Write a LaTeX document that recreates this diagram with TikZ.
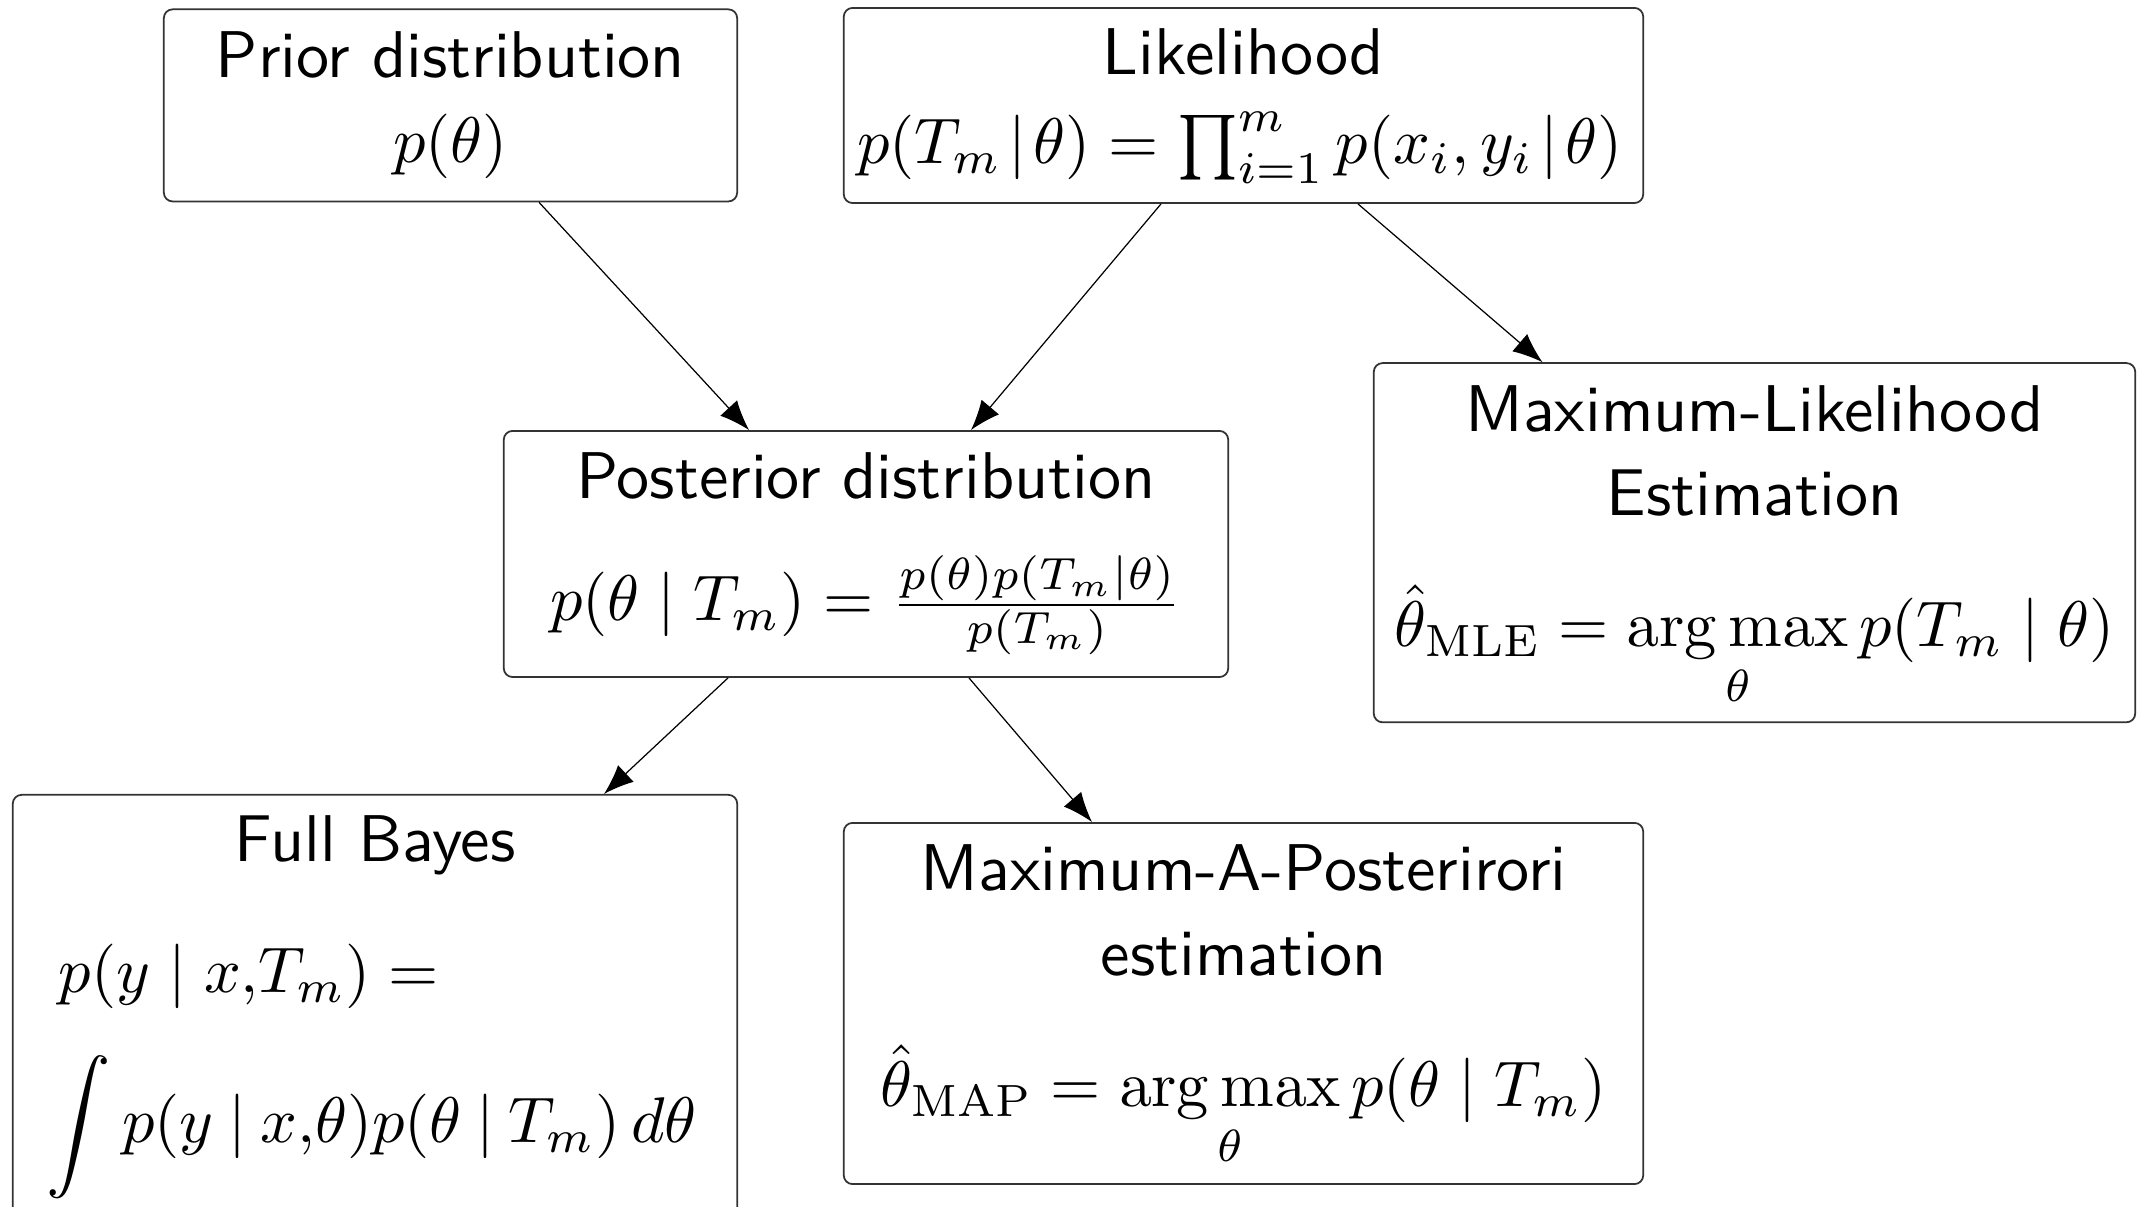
\documentclass[tikz,border=0pt]{standalone}
\usepackage{amsmath}
\usetikzlibrary{arrows.meta,calc}
\newcommand{\argmaxop}{\mathop{\mathrm{arg\,max}}\limits}
\begin{document}
\begin{tikzpicture}[x=0.01cm,y=-0.01cm,
  box/.style={draw=black!80,line width=0.5pt,rounded corners=2.5pt,inner sep=0pt,fill=none},
  txt/.style={font=\fontsize{10}{12}\selectfont\sffamily,anchor=base,inner sep=0pt,scale=1.88},
  mth/.style={font=\fontsize{10}{12}\selectfont\sffamily,anchor=base,inner sep=0pt,scale=1.835},
  conn/.style={line width=0.35pt,-{Latex[length=8.5pt,width=6.5pt]}}]
\useasboundingbox (0,0) rectangle (2147,1207);
% boxes
\node[box,minimum width=5.73cm,minimum height=1.92cm] (prior) at (450.5,105.4) {};
\node[box,minimum width=7.99cm,minimum height=1.95cm] (lik) at (1243.5,105.5) {};
\node[box,minimum width=7.24cm,minimum height=2.46cm] (post) at (866,554) {};
\node[box,minimum width=7.61cm,minimum height=3.59cm] (mle) at (1754.5,542.7) {};
\node[box,minimum width=7.24cm,minimum height=4.35cm] (fb) at (375,1012.5) {};
\node[box,minimum width=7.99cm,minimum height=3.61cm] (map) at (1243.5,1003.5) {};
% texts
\node[txt] (priorT) at (450.5,77.3) {Prior distribution};
\node[mth] (priorF) at (450.5,163) {$p(\theta)$};
\node[txt] (likT) at (1243.5,75) {Likelihood};
\node[mth] (likF) at (1240,164) {$p(T_m\mkern2mu|\mkern2mu\theta) = \prod_{i=1}^m p(x_i,y_i\mkern2mu|\mkern2mu\theta)$};
\node[txt] (postT) at (866,498.3) {Posterior distribution};
\node[mth] (postF) at (866,621) {$p(\theta\mid T_m) = \frac{p(\theta)p(T_m|\theta)}{p(T_m)}$};
\node[txt] (mleT1) at (1754.5,431.7) {Maximum-Likelihood};
\node[txt] (mleT2) at (1754.5,516) {Estimation};
\node[mth] (mleF) at (1754.5,646.7) {$\displaystyle\hat\theta_{\mathrm{MLE}} = \argmaxop_\theta p(T_m\mid\theta)$};
\node[txt] (mapT1) at (1243.5,890.7) {Maximum-A-Posterirori};
\node[txt] (mapT2) at (1243.5,976) {estimation};
\node[mth] (mapF) at (1243.5,1106.7) {$\displaystyle\hat\theta_{\mathrm{MAP}} = \argmaxop_\theta p(\theta\mid T_m)$};
\node[txt] (fbT) at (375,861.7) {Full Bayes};
\node[mth,anchor=base west] (fbF1) at (57.5,993) {$p(y\mid x{,}T_m) =$};
\node[mth,anchor=base west] (fbF2) at (45.6,1143) {$\displaystyle\int p(y\mkern4mu|\mkern4mu x{,}\theta)p(\theta\mkern4mu|\mkern4mu T_m)\,d\theta$};
% connectors
\draw[conn] ($(prior.south)+(88.5,0)$) -- ($(post.north)+(-117,0)$);
\draw[conn] ($(lik.south)+(-82.5,0)$) -- ($(post.north)+(105,0)$);
\draw[conn] ($(lik.south)+(114.5,0)$) -- ($(mle.north)+(-212,0)$);
\draw[conn] ($(post.south)+(-138,0)$) -- ($(fb.north)+(229,0)$);
\draw[conn] ($(post.south)+(103,0)$) -- ($(map.north)+(-151.5,0)$);
\end{tikzpicture}
\end{document}
